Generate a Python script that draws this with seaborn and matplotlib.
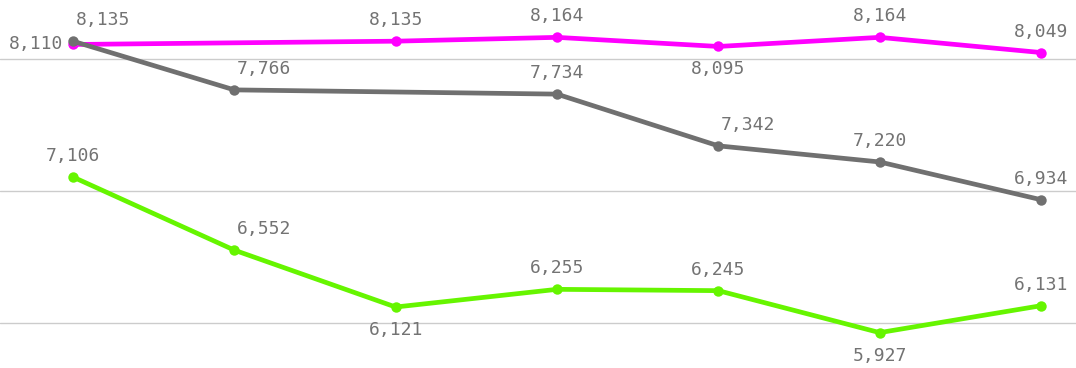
import numpy as np
import pandas as pd
import matplotlib
matplotlib.use("Agg")
import matplotlib.pyplot as plt
import seaborn as sns

# values (None = no point in that slot)
periods = [0, 1, 2, 3, 4, 5, 6]
magenta_vals = [8110, None, 8135, 8164, 8095, 8164, 8049]
grey_vals = [8135, 7766, None, 7734, 7342, 7220, 6934]
green_vals = [7106, 6552, 6121, 6255, 6245, 5927, 6131]

series_names = ["magenta", "grey", "green"]
colors = {"magenta": "#ff00ff", "grey": "#707070", "green": "#66f500"}

# label placement per point: (dx, dy) in pixels, ha
above = (0, 21, "center")
above_r = (30, 21, "center")
below = (0, -23, "center")
left = (-10, 0, "right")
placement = {
    "magenta": [left, None, above, above, below, above, above],
    "grey": [above_r, above_r, None, above, above_r, above, above],
    "green": [above, above_r, below, above, above, below, above],
}

rows = []
for name, vals in zip(series_names, [magenta_vals, grey_vals, green_vals]):
    for p, v in zip(periods, vals):
        rows.append({"period": p, "value": v if v is not None else np.nan, "series": name})
df = pd.DataFrame(rows)

sns.set_style("white")
fig = plt.figure(figsize=(10.76, 3.68), dpi=100)
ax = fig.add_axes([0, 0, 1, 1])

for name in series_names:
    sub = df[df["series"] == name].dropna()
    sns.lineplot(data=sub, x="period", y="value", color=colors[name], linewidth=3.4,
                 marker="o", markersize=7.5, markeredgewidth=0, ax=ax)

ax.set_xlim(-0.452, 6.217)
ax.set_ylim(5659, 8447)
ax.set_yticks([6000, 7000, 8000])
ax.yaxis.grid(True, color="#cccccc", linewidth=1)
ax.set_axisbelow(True)
ax.tick_params(left=False, bottom=False, labelleft=False, labelbottom=False)
ax.set_xlabel("")
ax.set_ylabel("")
for s in ax.spines.values():
    s.set_visible(False)

for name in series_names:
    sub = df[df["series"] == name]
    for i, (p, v) in enumerate(zip(sub["period"], sub["value"])):
        if np.isnan(v):
            continue
        dx, dy, ha = placement[name][i]
        ax.annotate(f"{int(v):,}", (p, v), xytext=(dx * 0.72, dy * 0.72),
                    textcoords="offset points", ha=ha, va="center",
                    fontsize=13, color="#737373", family="DejaVu Sans Mono")

fig.savefig("out.png", dpi=100)
